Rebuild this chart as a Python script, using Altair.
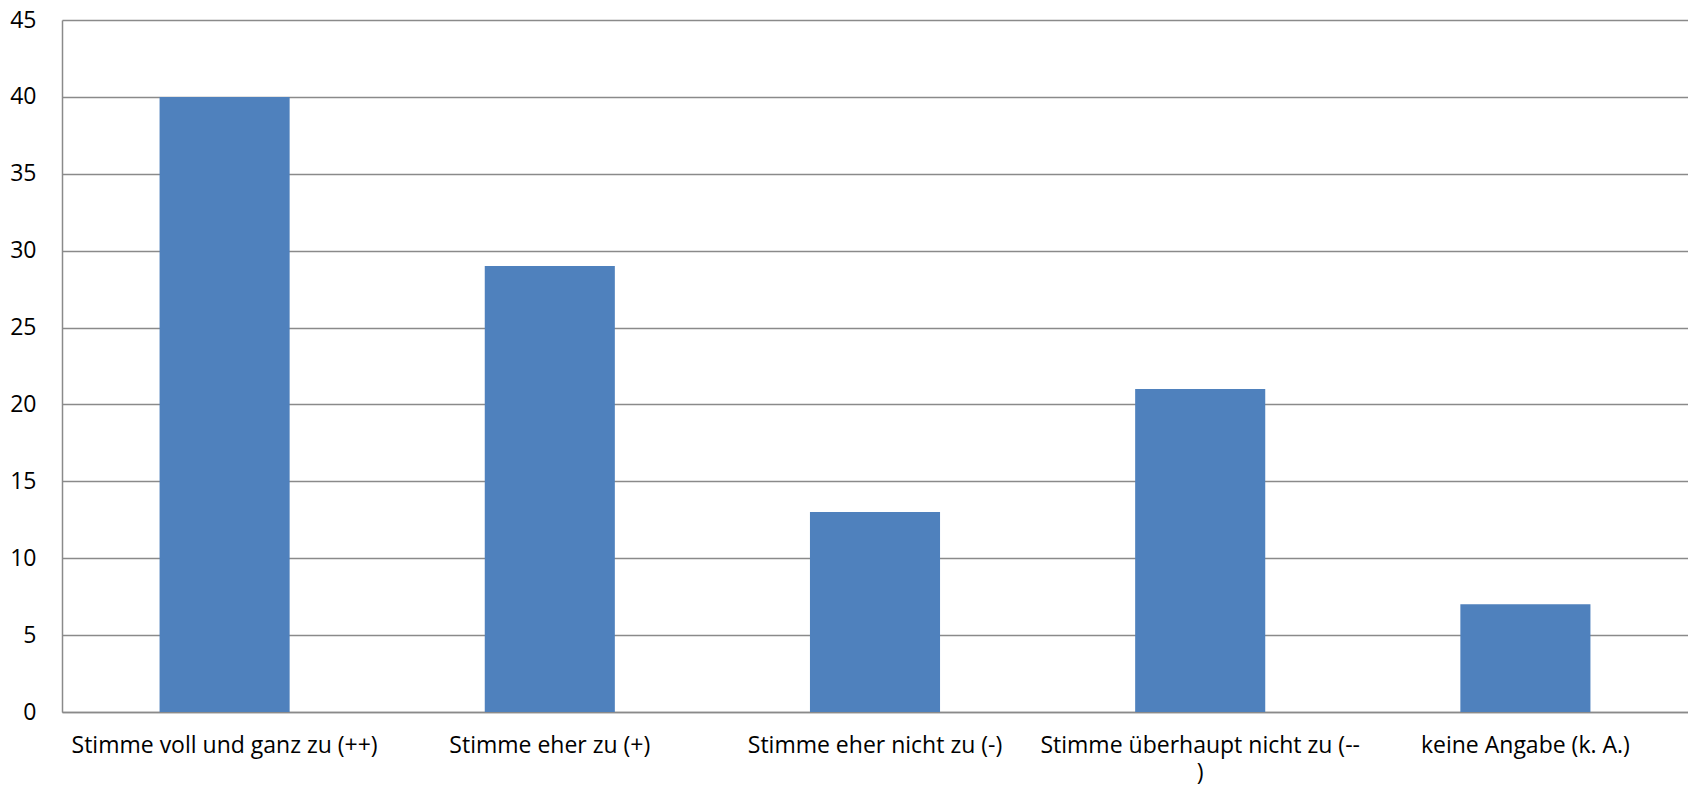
import altair as alt
import pandas as pd

categories = [
    "Stimme voll und ganz zu (++)",
    "Stimme eher zu (+)",
    "Stimme eher nicht zu (-)",
    "Stimme überhaupt nicht zu (--)",
    "keine Angabe (k. A.)",
]
values = [40, 29, 13, 21, 7]
y_ticks = [0, 5, 10, 15, 20, 25, 30, 35, 40, 45]

df = pd.DataFrame({"Antwort": categories, "Anzahl": values})

label_expr = (
    "datum.value == 'Stimme überhaupt nicht zu (--)' "
    "? ['Stimme überhaupt nicht zu (--', ')'] : datum.value"
)

FONT = "Open Sans"
GRID = "#8a8a8a"

chart = (
    alt.Chart(df)
    .mark_bar(color="#4F81BD")
    .encode(
        x=alt.X(
            "Antwort:N",
            sort=categories,
            scale=alt.Scale(paddingInner=0.6, paddingOuter=0.3),
            axis=alt.Axis(
                title=None,
                labelAngle=0,
                labelFont=FONT,
                labelFontSize=23,
                labelColor="#000000",
                labelPadding=22,
                labelBaseline="top",
                labelLineHeight=27,
                labelLimit=500,
                labelOverlap=False,
                ticks=False,
                domainColor=GRID,
                domainWidth=1.5,
                labelExpr=label_expr,
            ),
        ),
        y=alt.Y(
            "Anzahl:Q",
            scale=alt.Scale(domain=[0, 45], nice=False),
            axis=alt.Axis(
                title=None,
                values=y_ticks,
                ticks=False,
                grid=True,
                gridColor=GRID,
                gridWidth=1.5,
                domainColor=GRID,
                domainWidth=1.5,
                labelFont=FONT,
                labelFontSize=23,
                labelColor="#000000",
                labelPadding=26,
            ),
        ),
    )
    .properties(
        width=1626,
        height=692,
        autosize=alt.AutoSizeParams(type="none"),
        padding={"left": 54, "top": 12, "right": 0, "bottom": 72},
    )
    .configure_view(stroke=None)
)

chart.save("out.html", embed_options={"renderer": "svg", "actions": False})
